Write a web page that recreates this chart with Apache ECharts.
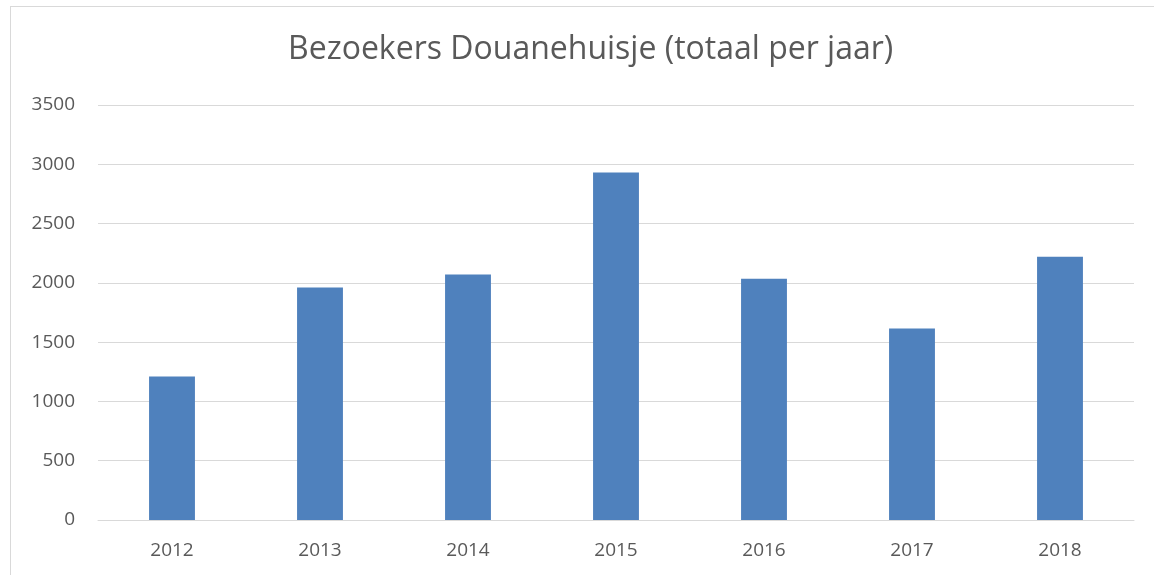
<!DOCTYPE html>
<html>
<head>
<meta charset="utf-8">
<script src="https://cdn.jsdelivr.net/npm/echarts@6/dist/echarts.min.js"></script>
<style>
  html, body { margin: 0; padding: 0; background: #fff; }
  #frame { position: absolute; left: 10px; top: 6px; width: 1160px; height: 600px; border: 1px solid #d9d9d9; box-sizing: border-box; }
  #chart { position: absolute; left: 0; top: 0; width: 1154px; height: 575px; }
</style>
</head>
<body>
<div id="frame"></div>
<div id="chart"></div>
<script>
const years = ['2012', '2013', '2014', '2015', '2016', '2017', '2018']
const visitors = [1210, 1960, 2070, 2930, 2035, 1615, 2220]
const yTicks = [0, 500, 1000, 1500, 2000, 2500, 3000, 3500]

const chart = echarts.init(document.getElementById('chart'))
const textColor = '#595959'
const lineColor = '#d9d9d9'

chart.setOption({
  animation: false,
  title: {
    text: 'Bezoekers Douanehuisje (totaal per jaar)',
    left: 283,
    top: 29,
    textStyle: { fontFamily: 'Open Sans', fontSize: 32, fontWeight: 'normal', color: textColor }
  },
  grid: { left: 98, right: 20, top: 105, bottom: 55 },
  xAxis: {
    type: 'category',
    data: years,
    axisLine: { lineStyle: { color: lineColor, width: 1 } },
    axisTick: { show: false },
    axisLabel: { color: textColor, fontFamily: 'Open Sans', fontSize: 19, margin: 21 }
  },
  yAxis: {
    type: 'value',
    min: yTicks[0],
    max: yTicks[yTicks.length - 1],
    interval: 500,
    axisLine: { show: false },
    axisTick: { show: false },
    splitLine: { lineStyle: { color: lineColor, width: 1 } },
    axisLabel: { color: textColor, fontFamily: 'Open Sans', fontSize: 19, margin: 23, formatter: v => String(v) }
  },
  series: [
    {
      type: 'bar',
      data: visitors,
      barWidth: '31%',
      itemStyle: { color: '#4f81bd' }
    }
  ]
})
</script>
</body>
</html>
